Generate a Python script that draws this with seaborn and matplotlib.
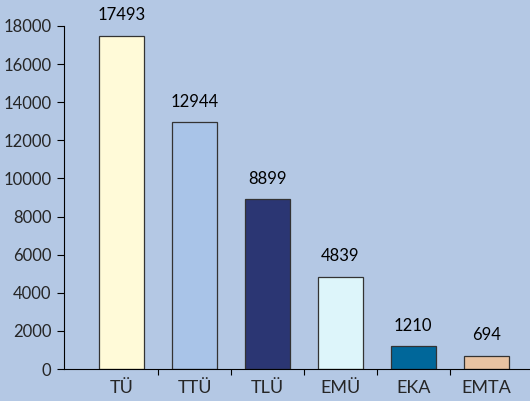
import numpy as np
import pandas as pd
import matplotlib
matplotlib.use("Agg")
import matplotlib.pyplot as plt
import seaborn as sns

# andmed
koolid = ["TÜ", "TTÜ", "TLÜ", "EMÜ", "EKA", "EMTA"]
tudengid = [17493, 12944, 8899, 4839, 1210, 694]
varvid = ["#FFFAD8", "#A9C4E8", "#2B3673", "#DDF5FA", "#00679A", "#E8C3A2"]
y_ticks = [0, 2000, 4000, 6000, 8000, 10000, 12000, 14000, 16000, 18000]

bg = "#B4C8E4"
sns.set_style("ticks")
plt.rcParams["font.family"] = ["Lato", "DejaVu Sans"]

df = pd.DataFrame({"kool": koolid, "n": tudengid})

fig = plt.figure(figsize=(5.3, 4.01), dpi=100)
fig.patch.set_facecolor(bg)
ax = fig.add_axes([64 / 530, 32 / 401, 1 - 64 / 530, 343 / 401])
ax.set_facecolor(bg)

sns.barplot(data=df, x="kool", y="n", hue="kool", palette=varvid, legend=False,
            saturation=1, width=0.62, edgecolor="#333333", linewidth=0.9, ax=ax)

for i, v in enumerate(tudengid):
    ax.text(i, v + 650, str(v), ha="center", va="bottom", fontsize=12, color="black")

ax.set_xlim(-0.79, 5.6)
ax.set_ylim(0, 18000)
ax.set_yticks(y_ticks)
ax.set_yticklabels([str(t) for t in y_ticks], fontsize=12)
ax.set_xticks(range(len(koolid)))
ax.set_xticklabels(koolid, fontsize=13)
ax.tick_params(axis="x", length=0, pad=8)
ax.set_xticks(np.arange(0.5, 5.0, 1.0), minor=True)
ax.tick_params(axis="x", which="minor", length=4, color="black", width=0.8)
ax.tick_params(axis="y", length=5, color="black", width=0.8, pad=4)
ax.set_xlabel("")
ax.set_ylabel("")
for s in ["top", "right"]:
    ax.spines[s].set_visible(False)
for s in ["left", "bottom"]:
    ax.spines[s].set_color("black")
    ax.spines[s].set_linewidth(0.8)

fig.savefig("out.png", dpi=100, facecolor=bg)
